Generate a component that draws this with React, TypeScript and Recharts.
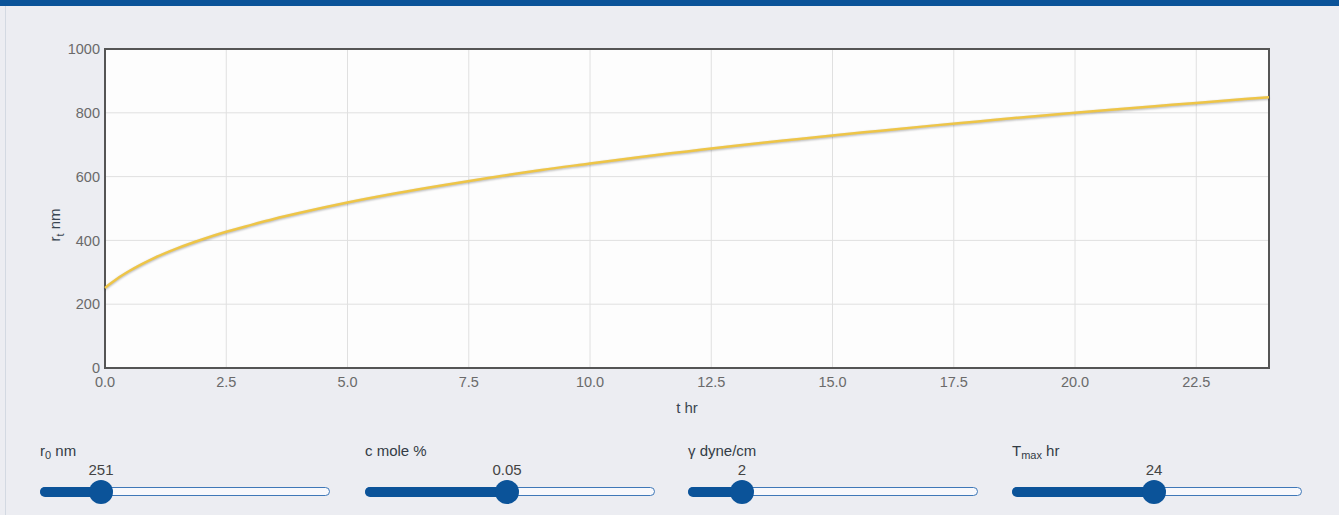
import React from 'react'
import {
  LineChart, Line, XAxis, YAxis, CartesianGrid, ReferenceArea,
} from 'recharts'

// time in hours and particle radius r_t in nm
const hours = [0, 0.1, 0.25, 0.5, 0.75, 1, 1.5, 2, 2.5, 3, 3.5, 4, 5, 6, 7, 8, 9, 10, 11, 12, 13, 14, 15, 16, 17, 18, 19, 20, 21, 22, 23, 24]
const radius = [251, 263, 280, 304, 325, 344, 376, 403, 427, 448, 468, 486, 519, 548, 574, 598, 621, 641, 661, 679, 697, 713, 729, 744, 759, 773, 787, 800, 813, 825, 837, 849]

const xTicks = [0, 2.5, 5, 7.5, 10, 12.5, 15, 17.5, 20, 22.5]
const yTicks = [0, 200, 400, 600, 800, 1000]

// slider controls under the chart
const sliderLabels = ['r|0| nm', 'c mole %', 'γ dyne/cm', 'T|max| hr']
const sliderValues = ['251', '0.05', '2', '24']
const sliderLeft = [40, 365, 688, 1012]
const sliderThumb = [101, 507, 742, 1154]

const data = hours.map((t, i) => ({ t, r: radius[i] }))

const FONT = '"Liberation Sans", Arial, Helvetica, sans-serif'
const BLUE = '#0b5399'

function Label({ text }: { text: string }) {
  const [a, sub, b] = text.split('|')
  if (sub === undefined) return <span>{text}</span>
  return (
    <span>
      {a}<sub style={{ fontSize: 11, verticalAlign: -3 }}>{sub}</sub>{b}
    </span>
  )
}

function Slider({ i }: { i: number }) {
  const left = sliderLeft[i]
  const width = 291
  const thumb = sliderThumb[i] - left
  return (
    <div style={{ position: 'absolute', left, top: 442, width, height: 70 }}>
      <div style={{ position: 'absolute', left: 0, top: 0, fontSize: 15, color: '#333c46', whiteSpace: 'nowrap' }}>
        <Label text={sliderLabels[i]} />
      </div>
      <div style={{
        position: 'absolute', left: thumb - 40, width: 80, top: 19, textAlign: 'center',
        fontSize: 15, color: '#444',
      }}>
        {sliderValues[i]}
      </div>
      <div style={{
        position: 'absolute', left: 0, top: 45, width: width - 3, height: 7,
        border: '1.5px solid #3f78b8', borderRadius: 6, background: '#f7f8fc',
      }} />
      <div style={{
        position: 'absolute', left: 0, top: 45, width: thumb, height: 10,
        borderRadius: 6, background: BLUE,
      }} />
      <div style={{
        position: 'absolute', left: thumb - 12, top: 38, width: 24, height: 24,
        borderRadius: 12, background: BLUE,
      }} />
    </div>
  )
}

function YLabel() {
  const cx = 60
  const cy = 225
  return (
    <text
      x={cx} y={cy} transform={`rotate(-90 ${cx} ${cy})`}
      textAnchor="middle" fontSize={15} fill="#3a4652" fontFamily={FONT}
    >
      r<tspan fontSize={11} dy={4}>t</tspan><tspan dy={-4}> nm</tspan>
    </text>
  )
}

export default function App() {
  return (
    <div style={{
      position: 'absolute', left: 0, top: 0, width: 1339, height: 515,
      background: '#ecedf2', fontFamily: FONT, overflow: 'hidden',
    }}>
      <style>{'.shadow-line path { filter: drop-shadow(0px 1.5px 1px rgba(0,0,0,0.3)); }'}</style>
      <div style={{ position: 'absolute', left: 0, top: 0, width: 1339, height: 6, background: BLUE }} />
      <div style={{ position: 'absolute', left: 5, top: 6, width: 1, height: 509, background: '#d3d9e2' }} />
      <div style={{ position: 'absolute', left: 0, top: 0 }}>
        <LineChart
          width={1339} height={430} data={data}
          margin={{ top: 49, right: 70, bottom: 22, left: 55 }}
        >
          <CartesianGrid stroke="#e0e0e0" fill="#fdfdfd" horizontalValues={yTicks} verticalValues={xTicks} />
          <XAxis
            dataKey="t" type="number" domain={[0, 24]} ticks={xTicks}
            tickFormatter={(v: number) => v.toFixed(1)}
            tick={{ fontSize: 14.5, fill: '#6a6a6a', fontFamily: FONT }}
            axisLine={false} tickLine={false} tickSize={0} tickMargin={9} height={40}
            label={{ value: 't hr', position: 'insideBottom', offset: 0, dy: 5, fontSize: 15, fill: '#3a4652', fontFamily: FONT }}
          />
          <YAxis
            type="number" domain={[0, 1000]} ticks={yTicks}
            tick={{ fontSize: 14.5, fill: '#6a6a6a', fontFamily: FONT }}
            axisLine={false} tickLine={false} tickSize={0} tickMargin={5} width={50}
            label={<YLabel />}
          />
          <ReferenceArea x1={0} x2={24} y1={0} y2={1000} fill="none" stroke="#555" strokeWidth={2} />
          <Line
            className="shadow-line"
            type="monotone" dataKey="r" stroke="#eec547" strokeWidth={2.5}
            dot={false} isAnimationActive={false}
          />
        </LineChart>
      </div>
      {sliderLabels.map((_, i) => <Slider key={i} i={i} />)}
    </div>
  )
}
